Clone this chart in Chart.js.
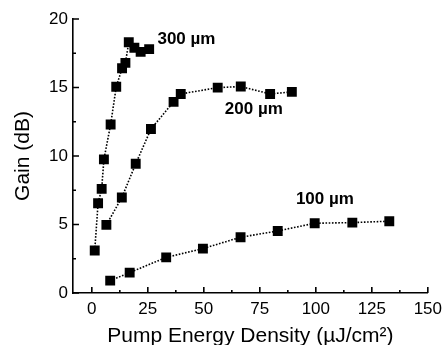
<!DOCTYPE html>
<html>
<head>
<meta charset="utf-8">
<script src="https://cdn.jsdelivr.net/npm/chart.js@4.4.0/dist/chart.umd.min.js"></script>
<style>
  html, body { margin: 0; padding: 0; background: #fff; }
  #wrap { width: 448px; height: 345px; }
</style>
</head>
<body>
<div id="wrap"><canvas id="canvas" width="448" height="345"></canvas></div>
<script>
  // data
  var seriesNames = ['300 \u00b5m', '200 \u00b5m', '100 \u00b5m'];

  var x300 = [1.3, 2.8, 4.4, 5.4, 8.4, 10.9, 13.5, 15.0, 16.5, 19.0, 21.8, 25.6];
  var y300 = [3.1, 6.55, 7.6, 9.75, 12.3, 15.05, 16.4, 16.8, 18.3, 17.9, 17.6, 17.8];

  var x200 = [6.5, 13.4, 19.6, 26.4, 36.5, 39.7, 56.2, 66.5, 79.6, 89.3];
  var y200 = [4.97, 6.97, 9.43, 11.97, 13.95, 14.53, 14.99, 15.07, 14.53, 14.68];

  var x100 = [8.2, 16.9, 33.2, 49.6, 66.4, 83.0, 99.5, 116.3, 132.8];
  var y100 = [0.9, 1.49, 2.6, 3.24, 4.07, 4.53, 5.09, 5.14, 5.24];

  var xTicks = [0, 25, 50, 75, 100, 125, 150];
  var yTicks = [0, 5, 10, 15, 20];

  function toPoints(xs, ys)
  {
    var pts = [];
    for (var i = 0; i < xs.length; i++)
    {
      pts.push({x: xs[i], y: ys[i]});
    }
    return pts;
  }

  function makeSet(label, xs, ys)
  {
    return {
      label: label,
      data: toPoints(xs, ys),
      borderColor: '#000',
      backgroundColor: '#000',
      borderWidth: 1.6,
      borderDash: [1.6, 1.6],
      pointStyle: 'rect',
      pointRadius: 7,
      pointBorderWidth: 0,
      showLine: true,
      tension: 0
    };
  }

  // inward major + minor ticks, and the series labels
  var decor = {
    id: 'decor',
    afterDraw: function(chart)
    {
      var ctx = chart.ctx;
      var xs = chart.scales.x, ys = chart.scales.y;
      var area = chart.chartArea;
      ctx.save();
      ctx.strokeStyle = '#000';
      ctx.lineWidth = 1.6;
      ctx.beginPath();
      for (var v = 0; v <= 150; v += 12.5)
      {
        var px = xs.getPixelForValue(v);
        var len = (v % 25 === 0) ? 6 : 3;
        ctx.moveTo(px, area.bottom);
        ctx.lineTo(px, area.bottom - len);
      }
      for (var w = 0; w <= 20; w += 2.5)
      {
        var py = ys.getPixelForValue(w);
        var l2 = (w % 5 === 0) ? 6 : 3;
        ctx.moveTo(area.left, py);
        ctx.lineTo(area.left + l2, py);
      }
      ctx.stroke();

      ctx.fillStyle = '#000';
      ctx.font = 'bold 17px "Liberation Sans", Arial, sans-serif';
      ctx.textBaseline = 'alphabetic';
      ctx.textAlign = 'left';
      var spots = [[29.3, 18.21], [59.4, 13.09], [91.1, 6.51]];
      for (var k = 0; k < seriesNames.length; k++)
      {
        ctx.fillText(seriesNames[k], xs.getPixelForValue(spots[k][0]), ys.getPixelForValue(spots[k][1]));
      }
      ctx.restore();
    }
  };

  var family = '"Liberation Sans", Arial, sans-serif';
  var tickFont = {family: family, size: 17};
  var titleFont = {family: family, size: 21};

  var ctx = document.getElementById('canvas').getContext('2d');
  window.myChart = new Chart(ctx, {
    type: 'scatter',
    data: {
      datasets: [
        makeSet(seriesNames[0], x300, y300),
        makeSet(seriesNames[1], x200, y200),
        makeSet(seriesNames[2], x100, y100)
      ]
    },
    plugins: [decor],
    options: {
      responsive: false,
      animation: false,
      layout: { padding: { left: 0, right: 16, top: 19, bottom: 0 } },
      plugins: {
        legend: { display: false },
        tooltip: { enabled: false }
      },
      scales: {
        x: {
          type: 'linear',
          min: -8.4,
          max: 150,
          afterBuildTicks: function(scale) { scale.ticks = xTicks.map(function(v) { return {value: v}; }); },
          afterFit: function(scale) { scale.height = 52; },
          border: { display: true, color: '#000', width: 1.6 },
          grid: { display: false, drawTicks: false },
          ticks: { color: '#000', font: tickFont, padding: 6, maxRotation: 0, autoSkip: false },
          title: {
            display: true,
            text: 'Pump Energy Density (\u00b5J/cm\u00b2)',
            color: '#000',
            font: titleFont,
            padding: {top: 0, bottom: -4}
          }
        },
        y: {
          min: 0,
          max: 20,
          afterBuildTicks: function(scale) { scale.ticks = yTicks.map(function(v) { return {value: v}; }); },
          afterFit: function(scale) { scale.width = 73; },
          border: { display: true, color: '#000', width: 1.6 },
          grid: { display: false, drawTicks: false },
          ticks: { color: '#000', font: tickFont, padding: 5, autoSkip: false },
          title: {
            display: true,
            text: 'Gain (dB)',
            color: '#000',
            font: titleFont,
            padding: {top: 11, bottom: 0}
          }
        }
      }
    }
  });
</script>
</body>
</html>
